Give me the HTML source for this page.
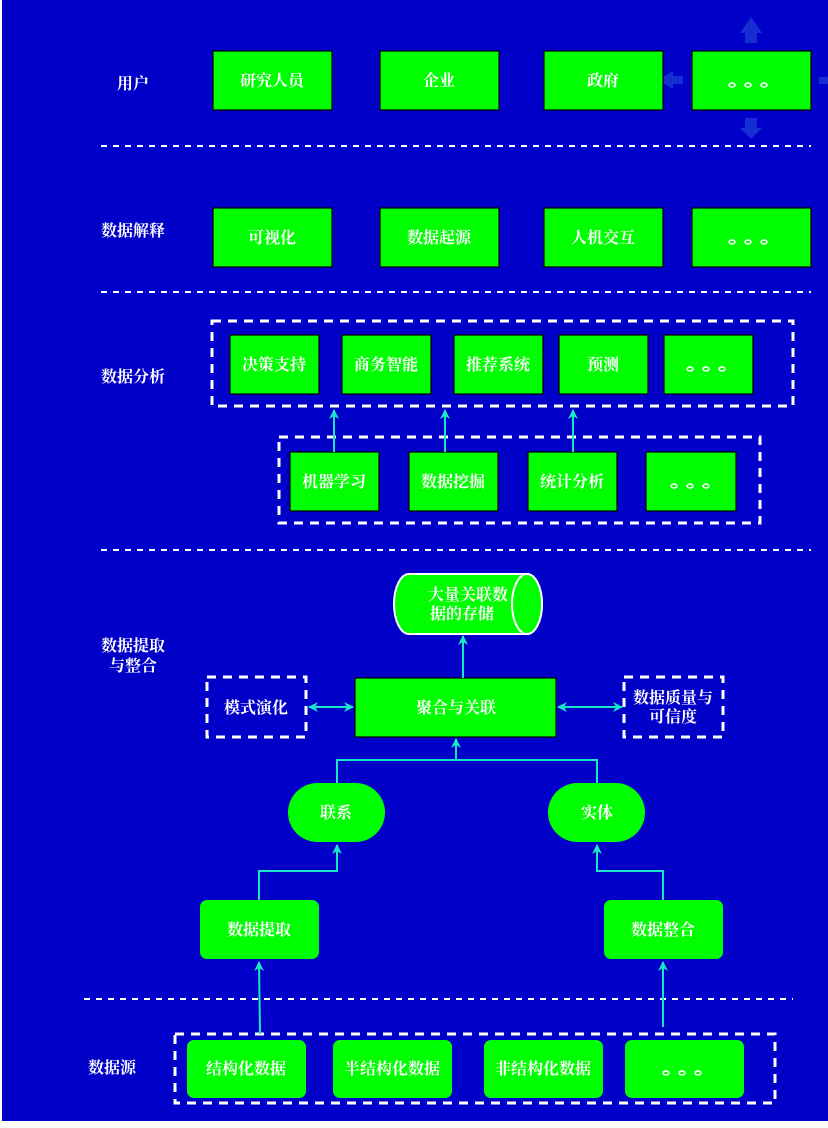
<!DOCTYPE html>
<html><head><meta charset="utf-8"><style>
html,body{margin:0;padding:0;background:#fff;}
svg text{font-family:"Liberation Serif","Noto Serif CJK SC",serif;font-weight:bold;font-size:16px;fill:#fff;}
</style></head><body>
<svg width="828" height="1123" viewBox="0 0 828 1123" xmlns="http://www.w3.org/2000/svg">
<defs>
<marker id="ah" viewBox="0 0 10 10" refX="9" refY="5" markerWidth="10" markerHeight="10" orient="auto-start-reverse" markerUnits="userSpaceOnUse">
<path d="M0,0 L10,5 L0,10 L3,5 Z" fill="#19e6c8"/></marker>
<g id="dots"><ellipse cx="-16" cy="0" rx="3" ry="2" fill="none" stroke="#fff" stroke-width="1.5"/><ellipse cx="0" cy="0" rx="3" ry="2" fill="none" stroke="#fff" stroke-width="1.5"/><ellipse cx="16" cy="0" rx="3" ry="2" fill="none" stroke="#fff" stroke-width="1.5"/></g>
</defs>
<rect x="2" y="0" width="826" height="1121" fill="#0000c8"/>
<g fill="#1a3ad8" opacity="0.8">
<path d="M745,43 V33 H740 L751,17 L762,33 H757 V43 Z"/>
<path d="M745,118 V128 H740 L751,139 L762,128 H757 V118 Z"/>
<path d="M683,76 H673 V71 L658,80 L673,89 V84 H683 Z"/>
<path d="M819,77 H828 V84 H819 Z"/>
</g>
<g stroke="#fff" stroke-width="2" stroke-dasharray="6,6" fill="none">
<line x1="101" y1="146" x2="811" y2="146"/>
<line x1="101" y1="292" x2="811" y2="292"/>
<line x1="101" y1="550" x2="811" y2="550"/>
<line x1="84" y1="999" x2="793" y2="999"/>
</g>
<g stroke="#fff" stroke-width="3" stroke-dasharray="9,7" fill="none">
<rect x="212" y="321" width="581" height="85"/>
<rect x="279" y="437" width="481" height="86"/>
<rect x="207" y="677" width="99" height="60"/>
<rect x="624" y="677" width="99" height="60"/>
<rect x="175" y="1034" width="600" height="69"/>
</g>
<g text-anchor="middle">
<text x="133" y="89">用户</text>
<text x="133" y="236">数据解释</text>
<text x="133" y="382">数据分析</text>
<text x="133" y="651">数据提取</text>
<text x="133" y="671">与整合</text>
<text x="112" y="1073">数据源</text>
</g>
<g fill="#00ff00" stroke="#000" stroke-width="1.2">
<rect x="213" y="51" width="119" height="59"/><rect x="380" y="51" width="119" height="59"/><rect x="544" y="51" width="119" height="59"/><rect x="692" y="51" width="119" height="59"/>
<rect x="213" y="208" width="119" height="59"/><rect x="380" y="208" width="119" height="59"/><rect x="544" y="208" width="119" height="59"/><rect x="692" y="208" width="119" height="59"/>
<rect x="230" y="335" width="89" height="59"/><rect x="342" y="335" width="89" height="59"/><rect x="454" y="335" width="89" height="59"/><rect x="559" y="335" width="89" height="59"/><rect x="664" y="335" width="89" height="59"/>
<rect x="290" y="452" width="89" height="59"/><rect x="409" y="452" width="89" height="59"/><rect x="528" y="452" width="89" height="59"/><rect x="646" y="452" width="90" height="59"/>
<rect x="355" y="678" width="201" height="59"/>
</g>
<g fill="#00ff00">
<rect x="288" y="783" width="97" height="59" rx="29.5"/>
<rect x="548" y="783" width="97" height="59" rx="29.5"/>
<rect x="200" y="900" width="119" height="59" rx="7"/>
<rect x="604" y="900" width="119" height="59" rx="7"/>
<rect x="187" y="1040" width="119" height="58" rx="7"/>
<rect x="333" y="1040" width="119" height="58" rx="7"/>
<rect x="484" y="1040" width="119" height="58" rx="7"/>
<rect x="625" y="1040" width="119" height="58" rx="7"/>
</g>
<path d="M409,574 L527,574 A15,30 0 0 1 527,634 L409,634 A15,30 0 0 1 409,574 Z" fill="#00ff00" stroke="#fff" stroke-width="2"/>
<ellipse cx="527" cy="604" rx="15" ry="30" fill="#00ff00" stroke="#fff" stroke-width="2"/>
<g stroke="#19e6c8" stroke-width="2" fill="none">
<line x1="334" y1="452" x2="334" y2="410" marker-end="url(#ah)"/>
<line x1="445" y1="452" x2="445" y2="410" marker-end="url(#ah)"/>
<line x1="573" y1="452" x2="573" y2="410" marker-end="url(#ah)"/>
<line x1="463" y1="678" x2="463" y2="636" marker-end="url(#ah)"/>
<line x1="309" y1="707" x2="353" y2="707" marker-start="url(#ah)" marker-end="url(#ah)"/>
<line x1="558" y1="707" x2="622" y2="707" marker-start="url(#ah)" marker-end="url(#ah)"/>
<path d="M337,783 V760 H597 V783"/>
<line x1="456" y1="760" x2="456" y2="739" marker-end="url(#ah)"/>
<path d="M259,900 V871 H337 V845" marker-end="url(#ah)"/>
<path d="M663,900 V871 H597 V845" marker-end="url(#ah)"/>
<line x1="260" y1="1034" x2="259" y2="962" marker-end="url(#ah)"/>
<line x1="663" y1="1027" x2="663" y2="962" marker-end="url(#ah)"/>
</g>
<use href="#dots" x="748" y="85"/>
<use href="#dots" x="748" y="242"/>
<use href="#dots" x="706" y="369"/>
<use href="#dots" x="690" y="486"/>
<use href="#dots" x="682" y="1073"/>
<g text-anchor="middle">
<text x="272" y="86">研究人员</text><text x="439" y="86">企业</text><text x="603" y="86">政府</text>
<text x="272" y="243">可视化</text><text x="439" y="243">数据起源</text><text x="603" y="243">人机交互</text>
<text x="274" y="370">决策支持</text><text x="386" y="370">商务智能</text><text x="498" y="370">推荐系统</text><text x="603" y="370">预测</text>
<text x="334" y="487">机器学习</text><text x="453" y="487">数据挖掘</text><text x="572" y="487">统计分析</text>
<text x="468" y="600">大量关联数</text><text x="462" y="619">据的存储</text>
<text x="256" y="713">模式演化</text><text x="456" y="713">聚合与关联</text>
<text x="673" y="703">数据质量与</text><text x="673" y="722">可信度</text>
<text x="336" y="818">联系</text><text x="597" y="818">实体</text>
<text x="259" y="935">数据提取</text><text x="663" y="935">数据整合</text>
<text x="246" y="1074">结构化数据</text><text x="392" y="1074">半结构化数据</text><text x="543" y="1074">非结构化数据</text>
</g>
</svg>
</body></html>
